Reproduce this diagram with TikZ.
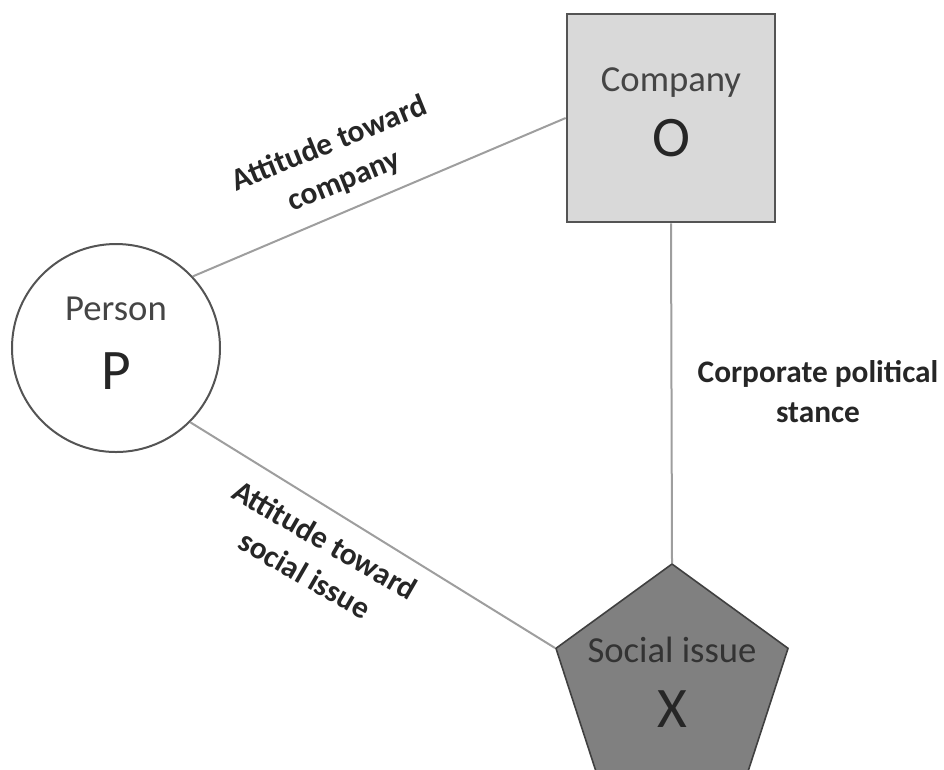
\documentclass[tikz,border=0pt]{standalone}
\usepackage{fontspec}
\setmainfont{Carlito}
\usetikzlibrary{shapes.geometric}

\definecolor{linkgray}{gray}{0.62}
\definecolor{edgegray}{gray}{0.33}
\definecolor{boxgray}{gray}{0.85}
\definecolor{pentgray}{gray}{0.5}
\definecolor{namegray}{gray}{0.27}

\begin{document}
\begin{tikzpicture}[x=0.75pt,y=-0.75pt]
     \tikzstyle{every node}=[inner sep=0pt]
     \tikzstyle{objname}=[font=\fontsize{27.5}{30}\selectfont,text=namegray]
     \tikzstyle{letter}=[font=\fontsize{43}{46}\selectfont,text=black!85]
     \tikzstyle{relation}=[font=\fontsize{23.5}{30}\selectfont\bfseries,align=center,text=black!85]
     \tikzstyle{link}=[linkgray,line width=1.5pt]
      \useasboundingbox (0,0) rectangle (944,769);
      \clip (0,0) rectangle (944,769);
      \coordinate (PersonC)  at (116,348);
      \coordinate (CompanyC) at (671,118);
      \coordinate (IssueC)   at (672,686);
      % the three objects
      \node[circle,draw=edgegray,line width=1.5pt,fill=white,minimum size=156pt] (person) at (PersonC) {};
      \node[rectangle,draw=edgegray,line width=2pt,fill=boxgray,minimum size=156pt] (company) at (CompanyC) {};
      \node[regular polygon,regular polygon sides=5,draw=black!75,line width=1.2pt,fill=pentgray,minimum size=183pt] (issue) at (IssueC) {};
      % relations
      \draw [link] (person.43) -- (company.west);
      \draw [link] (person.-45) -- (issue.corner 2);
      \draw [link] (company.south) -- (issue.corner 1);
      % texts
      \node[objname] (personname) at (116,309) {Person};
      \node[letter] (personletter) at (116,371) {P};
      \node[objname] (companyname) at (671,83) {Company};
      \node[letter] (companyletter) at (671,138) {O};
      \node[objname,text=black!80] (issuename) at (672,650) {Social issue};
      \node[letter] (issueletter) at (672,709) {X};
      \node[relation,rotate=22] (towardcompany) at (337,163) {Attitude toward\\company};
      \node[relation,rotate=-30] (towardissue) at (315,557) {Attitude toward\\social issue};
      \node[relation] (stance) at (818,392) {Corporate political\\stance};
    \end{tikzpicture}
\end{document}
